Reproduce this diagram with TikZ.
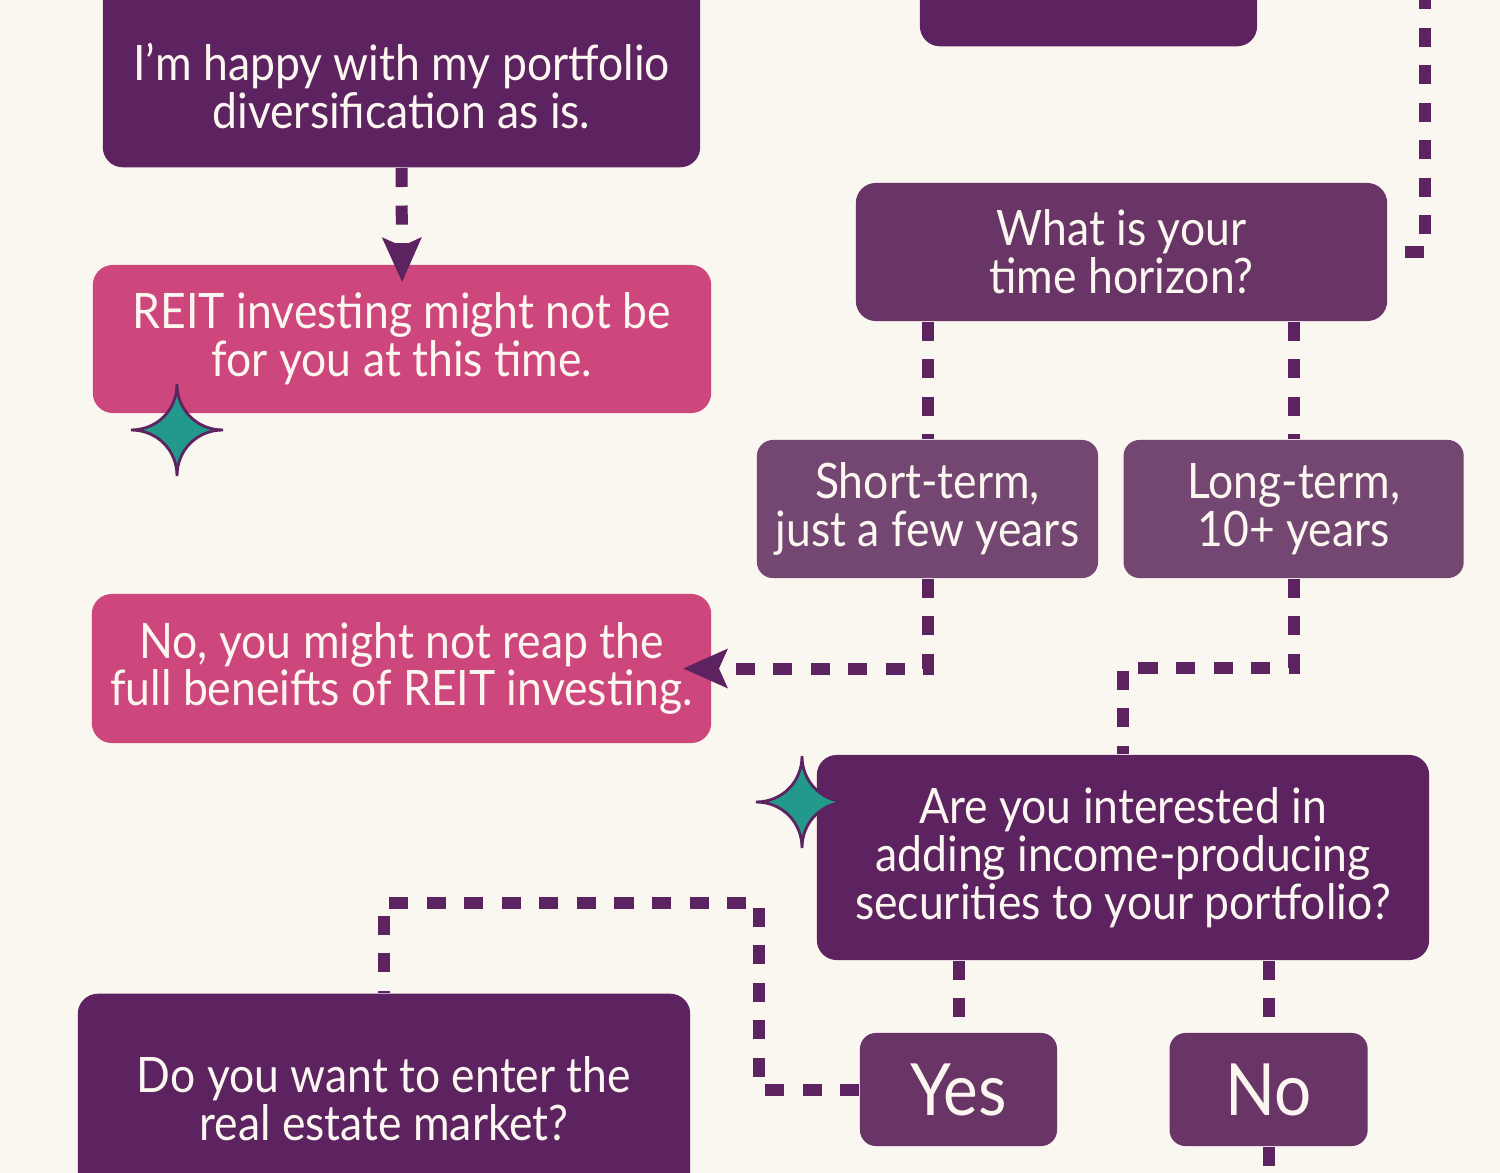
\documentclass[tikz,border=0pt]{standalone}
\usepackage{fontspec}
\setmainfont{Lato}[FakeStretch=0.91]
\usetikzlibrary{arrows.meta, positioning, calc}

\definecolor{paper}{HTML}{FAF6F0}
\definecolor{plum}{HTML}{5D2260}
\definecolor{grape}{HTML}{693466}
\definecolor{mauve}{HTML}{744672}
\definecolor{rose}{HTML}{CE477C}
\definecolor{jade}{HTML}{22998A}
\definecolor{cream}{HTML}{FBF6EF}

\begin{document}
\begin{tikzpicture}[
    x=0.01cm, y=-0.01cm,
    >={Stealth[length=0.44cm, width=0.38cm, inset=0.08cm]},
    box/.style={rounded corners=0.2cm, inner sep=0pt, text=cream, align=center,
                font=\fontsize{13.9}{13.6}\selectfont},
    smallbox/.style={box, rounded corners=0.16cm},
    link/.style={draw=plum, line width=0.12cm, dash pattern=on 0.19cm off 0.185cm},
    sparkle/.pic={
      \filldraw[fill=jade, draw=plum, line width=0.028cm]
        (0,-46) .. controls (0,-20) and (20,0) .. (46,0)
        .. controls (20,0) and (0,20) .. (0,46)
        .. controls (0,20) and (-20,0) .. (-46,0)
        .. controls (-20,0) and (0,-20) .. (0,-46) -- cycle;
    }
  ]
  \clip (0,0) rectangle (1500,1173);
  \fill[paper] (0,0) rectangle (1500,1173);

  % boxes cut off by the page edge
  \node[box, fill=plum, minimum width=5.97cm, minimum height=2.5cm,
        anchor=south] (happy) at (401.5,168) {};
  \node[box] (happytxt) at (401.5,86) {I’m happy with my portfolio\\diversification as is.};
  \node[box, fill=plum, minimum width=3.37cm, minimum height=1.5cm,
        anchor=south] (topq) at (1088.5,47) {};
  \node[box, fill=plum, minimum width=6.12cm, minimum height=2.5cm,
        anchor=north] (market) at (384,993) {};
  \node[box] (markettxt) at (384,1099) {Do you want to enter the\\real estate market?};

  % answers and questions
  \node[box, fill=rose, minimum width=6.18cm, minimum height=1.48cm]
        (reit) at (402,339) {REIT investing might not be\\for you at this time.};
  \node[box, fill=grape, minimum width=5.31cm, minimum height=1.38cm]
        (horizon) at (1121.5,252) {What is your\\time horizon?};
  \node[smallbox, fill=mauve, minimum width=3.41cm, minimum height=1.38cm]
        (short) at (927.5,509) {Short-term,\\just a few years};
  \node[smallbox, fill=mauve, minimum width=3.4cm, minimum height=1.38cm,
        right=0.24cm of short] (long) {Long-term,\\10+ years};
  \node[box, fill=rose, minimum width=6.19cm, minimum height=1.49cm]
        (noreap) at (401.5,668.5) {No, you might not reap the\\full beneifts of REIT investing.};
  \node[box, fill=plum, minimum width=6.12cm, minimum height=2.05cm]
        (income) at (1123,857.5) {Are you interested in\\adding income-producing\\securities to your portfolio?};
  \node[smallbox, fill=grape, minimum width=1.97cm, minimum height=1.13cm,
        font=\fontsize{20.5}{20}\selectfont] (yes) at (958.5,1089.5) {Yes};
  \node[smallbox, fill=grape, minimum width=1.98cm, minimum height=1.13cm,
        font=\fontsize{20.5}{20}\selectfont, right=1.11cm of yes] (no) {No};

  \coordinate (topin) at (1425,-10);

  % connectors
  \draw[link, ->, shorten >=-0.18cm] (happy.south) -- (reit.north);
  \draw[link] (topin) |- (horizon.east);
  \draw[link] (short.north |- horizon.south) -- (short.north);
  \draw[link] (long.north |- horizon.south) -- (long.north);
  \draw[link, ->, shorten >=-0.29cm] (short.south) |- (noreap.east);
  \draw[link] (long.south) -- ++(0,89) -| (income.north);
  \draw[link] (yes.north |- income.south) -- (yes.north);
  \draw[link] (no.north |- income.south) -- (no.north);
  \draw[link] (yes.west) -- ++(-100,0) -- ++(0,-187) -| (market.north);
  \draw[link] (no.south) -- ++(0,60);

  % sparkles
  \pic at (177,430) {sparkle};
  \pic at (802,802) {sparkle};
\end{tikzpicture}
\end{document}
